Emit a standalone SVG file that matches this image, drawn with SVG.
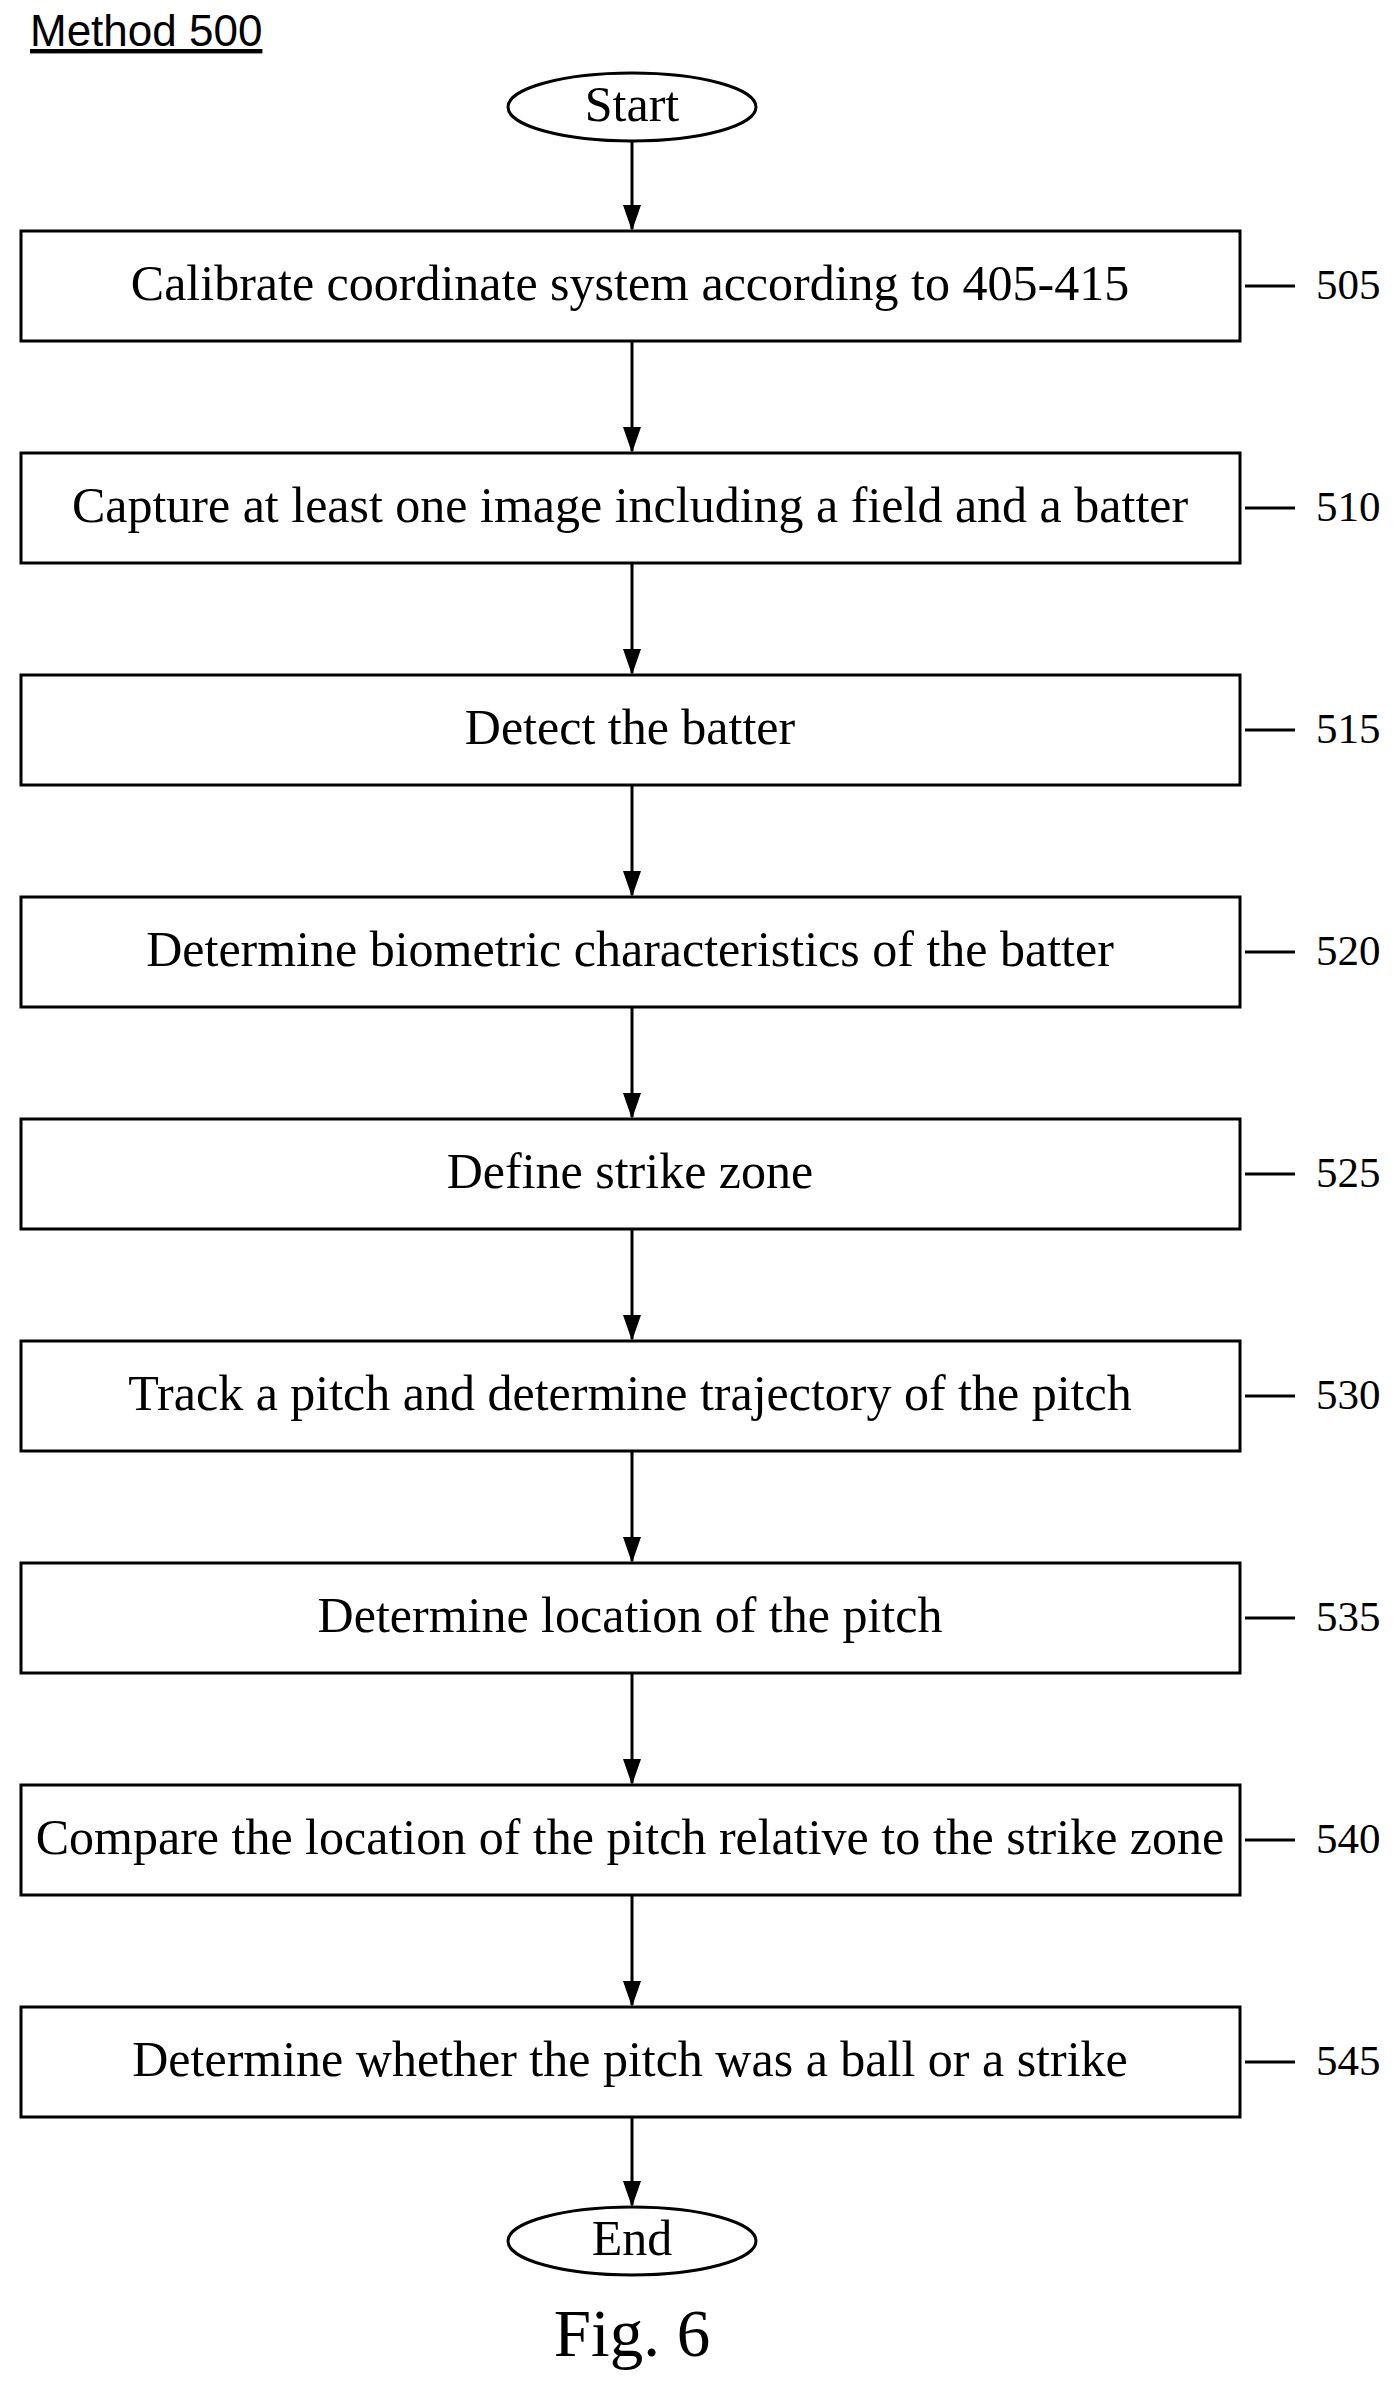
<svg xmlns="http://www.w3.org/2000/svg" width="1397" height="2388" viewBox="0 0 1397 2388">
<style>
.b{fill:#fff;stroke:#000;stroke-width:3}
.t{font-family:"Liberation Serif",serif;font-size:50px;text-anchor:middle;dominant-baseline:central}
.n{font-family:"Liberation Serif",serif;font-size:43px;dominant-baseline:central}
.c{stroke:#000;stroke-width:3;fill:none}
</style>
<defs><marker id="a" markerWidth="26" markerHeight="18" refX="24" refY="9" orient="auto" markerUnits="userSpaceOnUse" viewBox="0 0 26 18"><path d="M0,0L26,9L0,18z" fill="#000"/></marker></defs>
<rect width="1397" height="2388" fill="#fff"/>
<text x="30" y="46" font-family="Liberation Sans,sans-serif" font-size="44" text-decoration="underline">Method 500</text>
<g id="start"><ellipse class="b" cx="632" cy="107" rx="124" ry="34"/><text class="t" x="632" y="104">Start</text></g>
<g id="n505"><rect class="b" x="21" y="231" width="1219" height="110"/><text class="t" x="630" y="283">Calibrate coordinate system according to 405-415</text><line class="c" x1="1245" y1="286" x2="1295" y2="286"/><text class="n" x="1316" y="284">505</text></g>
<g id="n510"><rect class="b" x="21" y="453" width="1219" height="110"/><text class="t" x="630" y="505">Capture at least one image including a field and a batter</text><line class="c" x1="1245" y1="508" x2="1295" y2="508"/><text class="n" x="1316" y="506">510</text></g>
<g id="n515"><rect class="b" x="21" y="675" width="1219" height="110"/><text class="t" x="630" y="727">Detect the batter</text><line class="c" x1="1245" y1="730" x2="1295" y2="730"/><text class="n" x="1316" y="728">515</text></g>
<g id="n520"><rect class="b" x="21" y="897" width="1219" height="110"/><text class="t" x="630" y="949">Determine biometric characteristics of the batter</text><line class="c" x1="1245" y1="952" x2="1295" y2="952"/><text class="n" x="1316" y="950">520</text></g>
<g id="n525"><rect class="b" x="21" y="1119" width="1219" height="110"/><text class="t" x="630" y="1171">Define strike zone</text><line class="c" x1="1245" y1="1174" x2="1295" y2="1174"/><text class="n" x="1316" y="1172">525</text></g>
<g id="n530"><rect class="b" x="21" y="1341" width="1219" height="110"/><text class="t" x="630" y="1393">Track a pitch and determine trajectory of the pitch</text><line class="c" x1="1245" y1="1396" x2="1295" y2="1396"/><text class="n" x="1316" y="1394">530</text></g>
<g id="n535"><rect class="b" x="21" y="1563" width="1219" height="110"/><text class="t" x="630" y="1615">Determine location of the pitch</text><line class="c" x1="1245" y1="1618" x2="1295" y2="1618"/><text class="n" x="1316" y="1616">535</text></g>
<g id="n540"><rect class="b" x="21" y="1785" width="1219" height="110"/><text class="t" x="630" y="1837">Compare the location of the pitch relative to the strike zone</text><line class="c" x1="1245" y1="1840" x2="1295" y2="1840"/><text class="n" x="1316" y="1838">540</text></g>
<g id="n545"><rect class="b" x="21" y="2007" width="1219" height="110"/><text class="t" x="630" y="2059">Determine whether the pitch was a ball or a strike</text><line class="c" x1="1245" y1="2062" x2="1295" y2="2062"/><text class="n" x="1316" y="2060">545</text></g>
<g id="end"><ellipse class="b" cx="632" cy="2241" rx="124" ry="34"/><text class="t" x="632" y="2238">End</text></g>
<g id="connectors">
<line class="c" x1="632" y1="141" x2="632" y2="229" marker-end="url(#a)"/>
<line class="c" x1="632" y1="341" x2="632" y2="451" marker-end="url(#a)"/>
<line class="c" x1="632" y1="563" x2="632" y2="673" marker-end="url(#a)"/>
<line class="c" x1="632" y1="785" x2="632" y2="895" marker-end="url(#a)"/>
<line class="c" x1="632" y1="1007" x2="632" y2="1117" marker-end="url(#a)"/>
<line class="c" x1="632" y1="1229" x2="632" y2="1339" marker-end="url(#a)"/>
<line class="c" x1="632" y1="1451" x2="632" y2="1561" marker-end="url(#a)"/>
<line class="c" x1="632" y1="1673" x2="632" y2="1783" marker-end="url(#a)"/>
<line class="c" x1="632" y1="1895" x2="632" y2="2005" marker-end="url(#a)"/>
<line class="c" x1="632" y1="2117" x2="632" y2="2205" marker-end="url(#a)"/>
</g>
<text x="632" y="2333" font-family="Liberation Serif,serif" font-size="67" text-anchor="middle" dominant-baseline="central">Fig. 6</text>
</svg>
